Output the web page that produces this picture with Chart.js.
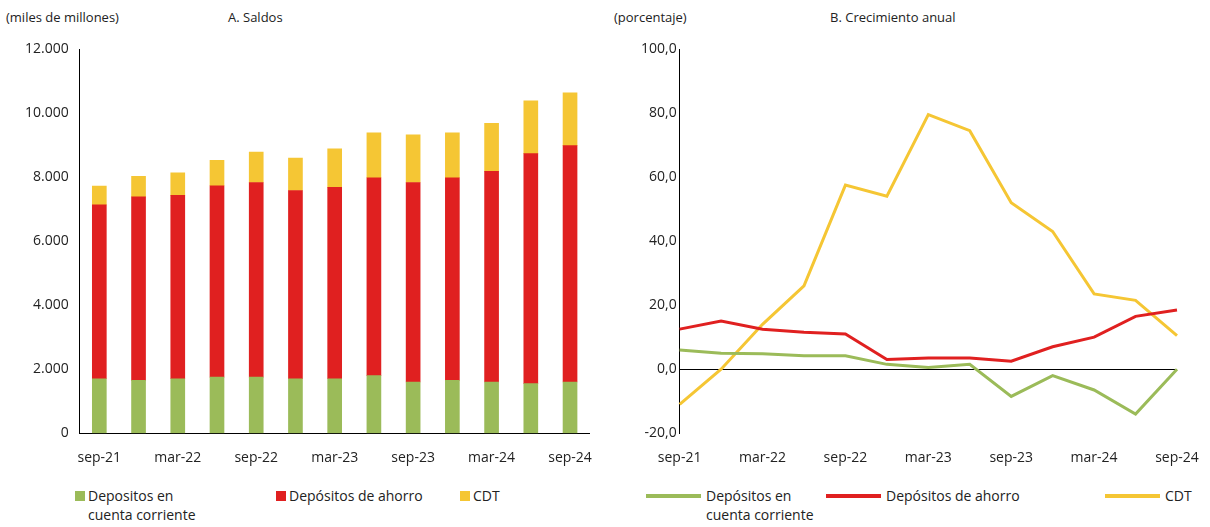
<!DOCTYPE html>
<html>
<head>
<meta charset="utf-8">
<script src="https://cdn.jsdelivr.net/npm/chart.js@4"></script>
<style>
  body { margin: 0; background: #fff; font-family: "Open Sans", sans-serif; color: #222; }
  .panel { position: absolute; top: 0; height: 527px; }
  .unit { position: absolute; top: 8px; font-size: 13px; }
  .title { position: absolute; top: 8px; font-size: 13px; }
  canvas { position: absolute; left: 0; top: 20px; }
  .leg { position: absolute; top: 486px; font-size: 14px; line-height: 19px; }
  .sq { position: absolute; top: 5px; width: 10px; height: 10px; }
  .ln { position: absolute; top: 8px; width: 55px; height: 4px; }
</style>
</head>
<body>
<div class="panel" style="left:0;width:600px">
  <div class="unit" style="left:6px">(miles de millones)</div>
  <div class="title" style="left:228px">A. Saldos</div>
  <canvas id="saldos" width="600" height="454"></canvas>
  <div class="leg" style="left:75px"><span class="sq" style="left:0;background:#9bbb59"></span><div style="margin-left:13px">Depositos en<br>cuenta corriente</div></div>
  <div class="leg" style="left:276px"><span class="sq" style="left:0;background:#e02020"></span><div style="margin-left:13px">Depósitos de ahorro</div></div>
  <div class="leg" style="left:460px"><span class="sq" style="left:0;background:#f5c634"></span><div style="margin-left:13px">CDT</div></div>
</div>
<div class="panel" style="left:600px;width:610px">
  <div class="unit" style="left:14px">(porcentaje)</div>
  <div class="title" style="left:230px">B. Crecimiento anual</div>
  <canvas id="crecimiento" width="610" height="454"></canvas>
  <div class="leg" style="left:46px"><span class="ln" style="left:0;background:#9bbb59"></span><div style="margin-left:60px">Depósitos en<br>cuenta corriente</div></div>
  <div class="leg" style="left:226px"><span class="ln" style="left:0;background:#e02020"></span><div style="margin-left:60px">Depósitos de ahorro</div></div>
  <div class="leg" style="left:505px"><span class="ln" style="left:0;background:#f5c634"></span><div style="margin-left:60px">CDT</div></div>
</div>
<script>
// trimestres
const labels = ['sep-21','dic-21','mar-22','jun-22','sep-22','dic-22','mar-23','jun-23','sep-23','dic-23','mar-24','jun-24','sep-24'];

// A. Saldos (miles de millones)
const saldoCorriente = [1700, 1650, 1700, 1750, 1750, 1700, 1700, 1800, 1600, 1650, 1600, 1550, 1600];
const saldoAhorro = [5430, 5730, 5730, 5980, 6080, 5880, 5980, 6180, 6230, 6330, 6580, 7180, 7380];
const saldoCDT = [590, 640, 700, 790, 950, 1010, 1200, 1400, 1490, 1400, 1500, 1650, 1650];

// B. Crecimiento anual (porcentaje)
const crecCorriente = [6, 5, 4.8, 4.2, 4.2, 1.5, 0.5, 1.5, -8.5, -2, -6.5, -14, 0];
const crecAhorro = [12.5, 15, 12.5, 11.5, 11, 3, 3.5, 3.5, 2.5, 7, 10, 16.5, 18.5];
const crecCDT = [-11, 0, 14, 26, 57.5, 54, 79.5, 74.5, 52, 43, 23.5, 21.5, 10.5];

const verde = '#9bbb59', rojo = '#e02020', amarillo = '#f5c634';
Chart.defaults.font.family = '"Open Sans", sans-serif';
Chart.defaults.font.size = 14;
Chart.defaults.color = '#222';
Chart.defaults.animation = false;

const xTicks = (v, i) => i % 2 === 0 ? labels[i] : '';

new Chart(document.getElementById('saldos'), {
    type: 'bar',
    data: {
        labels: labels,
        datasets: [
            { label: 'Depositos en cuenta corriente', data: saldoCorriente, backgroundColor: verde },
            { label: 'Depósitos de ahorro', data: saldoAhorro, backgroundColor: rojo },
            { label: 'CDT', data: saldoCDT, backgroundColor: amarillo }
        ]
    },
    options: {
        responsive: false,
        layout: { padding: { left: 22, right: 4, top: 29, bottom: 0 } },
        datasets: { bar: { barThickness: 14 } },
        plugins: { legend: { display: false }, tooltip: { enabled: false } },
        scales: {
            x: {
                stacked: true,
                grid: { display: false },
                border: { color: '#000' },
                ticks: { autoSkip: false, maxRotation: 0, callback: xTicks, padding: 8 }
            },
            y: {
                stacked: true,
                min: 0, max: 12000,
                ticks: { stepSize: 2000, callback: v => v.toLocaleString('es-CO') },
                grid: { display: false },
                border: { color: '#000' }
            }
        }
    }
});

new Chart(document.getElementById('crecimiento'), {
    type: 'line',
    data: {
        labels: labels,
        datasets: [
            { label: 'Depósitos en cuenta corriente', data: crecCorriente, borderColor: verde },
            { label: 'Depósitos de ahorro', data: crecAhorro, borderColor: rojo },
            { label: 'CDT', data: crecCDT, borderColor: amarillo }
        ]
    },
    options: {
        responsive: false,
        layout: { padding: { left: 38, right: 33, top: 29, bottom: 0 } },
        elements: { line: { borderWidth: 3, tension: 0 }, point: { radius: 0 } },
        plugins: { legend: { display: false }, tooltip: { enabled: false } },
        scales: {
            x: {
                offset: false,
                grid: { display: false },
                border: { display: false },
                ticks: { autoSkip: false, maxRotation: 0, callback: xTicks, padding: 8 }
            },
            y: {
                min: -20, max: 100,
                ticks: { stepSize: 20, callback: v => v.toFixed(1).replace('.', ',') },
                grid: { color: ctx => ctx.tick && ctx.tick.value === 0 ? '#000' : 'transparent', drawTicks: false },
                border: { color: '#000' }
            }
        }
    }
});
</script>
</body>
</html>
